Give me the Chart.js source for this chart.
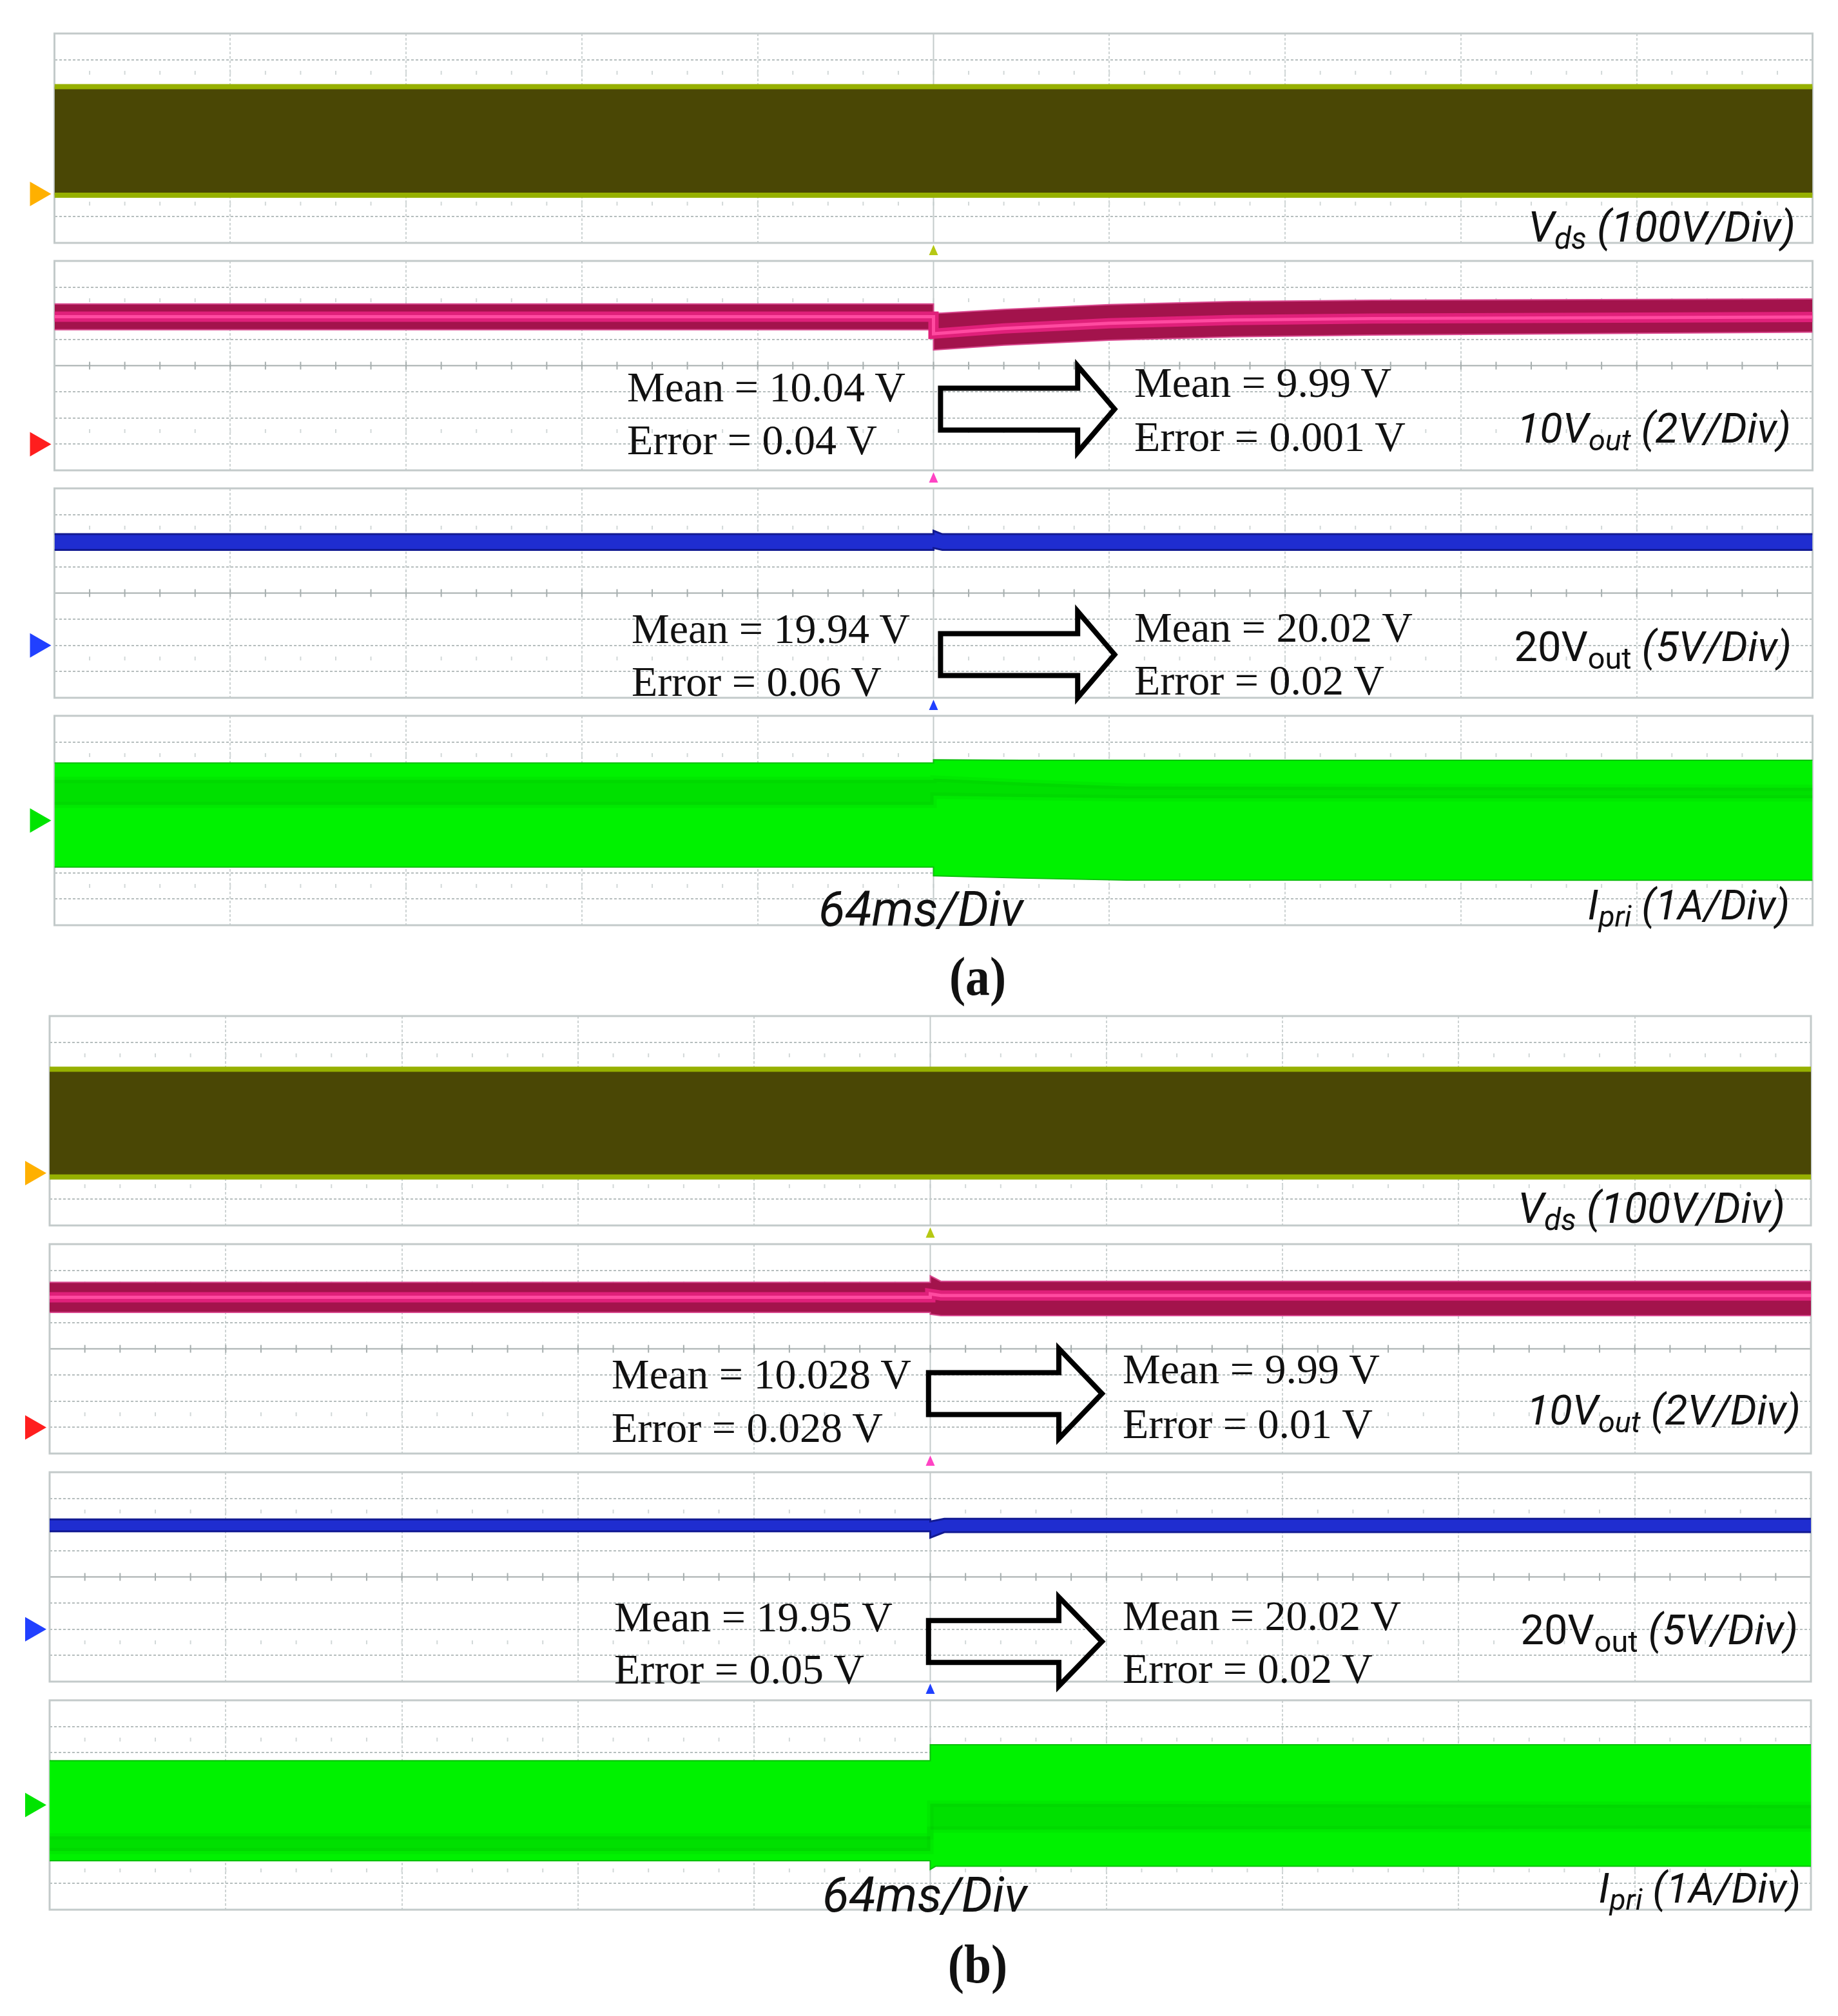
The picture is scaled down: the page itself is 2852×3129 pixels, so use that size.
<!DOCTYPE html>
<html>
<head>
<meta charset="utf-8">
<title>Load step waveforms</title>
<script src="https://cdn.jsdelivr.net/npm/chart.js@4.4.1/dist/chart.umd.min.js"></script>
<style>
  html, body { margin: 0; padding: 0; background: #fff; }
  #page { position: relative; width: 2852px; height: 3129px; overflow: hidden; background: #fff; }
  canvas { position: absolute; left: 0; }
  .txt { position: absolute; white-space: nowrap; line-height: 1; color: #111; z-index: 5; }
  .serif { font-family: "Liberation Serif", "Times New Roman", serif; }
  .lab { font-family: Roboto, "Open Sans", sans-serif; font-style: italic; }
  .lab .up { font-style: normal; }
  .sub { font-size: 0.72em; position: relative; top: 0.24em; }
  .fig { font-family: "Liberation Serif", serif; font-weight: bold; }
</style>
</head>
<body>
<div id="page"></div>
<script>
// all traces in scope divisions: x 0..10 (64 ms/div), y 0..8
const vdsT   = [0, 10];
const vdsAHi = [5.97, 5.97];
const vdsALo = [1.82, 1.82];
const vdsBHi = [5.97, 5.97];
const vdsBLo = [1.85, 1.85];

const v10AT   = [0, 5, 5, 5.4, 6.0, 6.7, 7.5, 10];
const v10AHi  = [6.36, 6.36, 5.99, 6.15, 6.33, 6.45, 6.50, 6.55];
const v10ALo  = [5.37, 5.37, 4.60, 4.78, 4.97, 5.10, 5.17, 5.28];
const v10AMid = [5.87, 5.87, 5.22, 5.42, 5.62, 5.74, 5.80, 5.86];

const v10BT   = [0, 5, 5, 5.06, 10];
const v10BHi  = [6.54, 6.54, 6.79, 6.58, 6.58];
const v10BLo  = [5.39, 5.39, 5.32, 5.27, 5.27];
const v10BMid = [5.97, 5.97, 6.10, 6.04, 6.04];

const v20AT  = [0, 5, 5, 5.05, 10];
const v20AHi = [6.25, 6.25, 6.38, 6.25, 6.25];
const v20ALo = [5.65, 5.65, 5.72, 5.65, 5.65];

const v20BT  = [0, 5, 5, 5.08, 10];
const v20BHi = [6.20, 6.20, 6.12, 6.22, 6.22];
const v20BLo = [5.74, 5.74, 5.50, 5.71, 5.71];

const ipAT      = [0, 5, 5, 5.5, 6.1, 10];
const ipAHi     = [6.20, 6.20, 6.32, 6.30, 6.30, 6.30];
const ipALo     = [2.22, 2.22, 1.89, 1.80, 1.72, 1.72];
const ipACoreHi = [5.55, 5.55, 5.60, 5.45, 5.30, 5.25];
const ipACoreLo = [4.60, 4.60, 4.95, 4.90, 4.85, 4.85];

const ipBT      = [0, 5, 5, 5.03, 10];
const ipBHi     = [5.69, 5.69, 6.30, 6.30, 6.30];
const ipBLo     = [1.87, 1.87, 1.54, 1.66, 1.66];
const ipBCoreHi = [2.80, 2.80, 4.05, 4.05, 4.00];
const ipBCoreLo = [2.24, 2.24, 3.06, 3.06, 3.10];

// channel ground levels (div) for figs a and b
const gndA = [1.87, 1.0, 2.0, 4.0];
const gndB = [2.0, 1.0, 2.0, 4.0];

// measurement texts
const notes = [
  // (a)
  {html: 'V<span class="sub">ds</span> (100V/Div)', cls: 'lab', fs: 66, x: 2786, base: 375, align: 'right'},
  {html: 'Mean = 10.04 V',  cls: 'serif', fs: 66, x: 973,  base: 623},
  {html: 'Error = 0.04 V',  cls: 'serif', fs: 66, x: 973,  base: 705},
  {html: 'Mean = 9.99 V',   cls: 'serif', fs: 66, x: 1760, base: 616},
  {html: 'Error = 0.001 V', cls: 'serif', fs: 66, x: 1760, base: 700},
  {html: '10V<span class="sub">out</span> (2V/Div)', cls: 'lab', fs: 65, x: 2779, base: 688, align: 'right'},
  {html: 'Mean = 19.94 V',  cls: 'serif', fs: 66, x: 980,  base: 998},
  {html: 'Error = 0.06 V',  cls: 'serif', fs: 66, x: 980,  base: 1080},
  {html: 'Mean = 20.02 V',  cls: 'serif', fs: 66, x: 1760, base: 996},
  {html: 'Error = 0.02 V',  cls: 'serif', fs: 66, x: 1760, base: 1078},
  {html: '<span class="up">20V<span class="sub">out</span></span> (5V/Div)', cls: 'lab', fs: 65, x: 2780, base: 1027, align: 'right'},
  {html: '64ms/Div', cls: 'lab', fs: 76, x: 1270, base: 1437},
  {html: 'I<span class="sub">pri</span> (1A/Div)', cls: 'lab', fs: 64, x: 2777, base: 1428, align: 'right'},
  {html: '(a)', cls: 'fig', fs: 84, x: 1517, base: 1545, align: 'center'},
  // (b)
  {html: 'V<span class="sub">ds</span> (100V/Div)', cls: 'lab', fs: 66, x: 2770, base: 1898, align: 'right'},
  {html: 'Mean = 10.028 V', cls: 'serif', fs: 66, x: 949,  base: 2155},
  {html: 'Error = 0.028 V', cls: 'serif', fs: 66, x: 949,  base: 2238},
  {html: 'Mean = 9.99 V',   cls: 'serif', fs: 66, x: 1742, base: 2147},
  {html: 'Error = 0.01 V',  cls: 'serif', fs: 66, x: 1742, base: 2232},
  {html: '10V<span class="sub">out</span> (2V/Div)', cls: 'lab', fs: 65, x: 2794, base: 2212, align: 'right'},
  {html: 'Mean = 19.95 V',  cls: 'serif', fs: 66, x: 953,  base: 2532},
  {html: 'Error = 0.05 V',  cls: 'serif', fs: 66, x: 953,  base: 2613},
  {html: 'Mean = 20.02 V',  cls: 'serif', fs: 66, x: 1742, base: 2530},
  {html: 'Error = 0.02 V',  cls: 'serif', fs: 66, x: 1742, base: 2612},
  {html: '<span class="up">20V<span class="sub">out</span></span> (5V/Div)', cls: 'lab', fs: 65, x: 2790, base: 2553, align: 'right'},
  {html: '64ms/Div', cls: 'lab', fs: 76, x: 1276, base: 2967},
  {html: 'I<span class="sub">pri</span> (1A/Div)', cls: 'lab', fs: 64, x: 2794, base: 2954, align: 'right'},
  {html: '(b)', cls: 'fig', fs: 84, x: 1517, base: 3078, align: 'center'}
];

const W = 2852, PANEL_H = 325, PAD = 40;
const figA = {left: 84.5, right: 2812.5, tops: [52, 405, 758, 1111]};
const figB = {left: 77, right: 2810, tops: [1577, 1931, 2285, 2639]};

const chStyle = {
  vds:  {fill: '#4a4705', edge: '#96b000', edgeW: 8, gnd: '#ffb000', trig: '#b6c814'},
  v10:  {fill: '#a3134c', edge: '#d8488e', edgeW: 2, gnd: '#ff1e1e', trig: '#ff44c4'},
  v20:  {fill: '#1f2dd0', edge: '#121a92', edgeW: 3, gnd: '#2140ff', trig: '#2040ff'},
  ipri: {fill: '#00f200', edge: '#0cbf0c', edgeW: 2, gnd: '#00e400', trig: null}
};

const page = document.getElementById('page');

function pts(t, v) { return t.map((x, i) => ({x: x, y: v[i]})); }

// lower `order` is painted later (on top)
function band(t, hi, lo, fill, edge, w, order) {
  return [
    {data: pts(t, hi), borderColor: edge, borderWidth: w, backgroundColor: fill, fill: '+1', order: order + 1},
    {data: pts(t, lo), borderColor: edge, borderWidth: w, fill: false, order: order}
  ];
}

const scope = {
  id: 'scope',
  beforeDatasetsDraw(chart, args, o) {
    const {ctx, chartArea: a, scales: {x, y}} = chart;
    const xc = x.getPixelForValue(5), yc = y.getPixelForValue(4);
    const seg = (x1, y1, x2, y2) => { ctx.beginPath(); ctx.moveTo(x1, y1); ctx.lineTo(x2, y2); ctx.stroke(); };
    ctx.save();
    ctx.strokeStyle = '#d2d8d8'; ctx.lineWidth = 2;
    [1.5, 6.5].forEach(r => {
      const py = y.getPixelForValue(r);
      for (let k = 1; k < 50; k++) {
        const px = x.getPixelForValue(k / 5);
        seg(px, py - 3, px, py + 3);
      }
    });
    ctx.strokeStyle = '#c4cbcb';
    seg(xc, a.top, xc, a.bottom);
    ctx.strokeStyle = '#a6aeae';
    seg(a.left, yc, a.right, yc);
    for (let k = 1; k < 50; k++) {
      const px = x.getPixelForValue(k / 5);
      seg(px, yc - 6, px, yc + 6);
    }
    ctx.strokeStyle = '#c3caca'; ctx.lineWidth = 3;
    ctx.strokeRect(a.left, a.top, a.right - a.left, a.bottom - a.top);
    ctx.restore();
  },
  afterDraw(chart, args, o) {
    const {ctx, chartArea: a, scales: {x, y}} = chart;
    ctx.save();
    if (o.arrow) {
      const r = o.arrow;
      const x0 = x.getPixelForValue(r.x0), xh = x.getPixelForValue(r.xh), x1 = x.getPixelForValue(r.x1);
      ctx.strokeStyle = '#000'; ctx.lineWidth = 8; ctx.lineJoin = 'miter';
      ctx.beginPath();
      ctx.moveTo(x0, y.getPixelForValue(r.y + r.bh));
      ctx.lineTo(xh, y.getPixelForValue(r.y + r.bh));
      ctx.lineTo(xh, y.getPixelForValue(r.y + r.hh));
      ctx.lineTo(x1, y.getPixelForValue(r.y));
      ctx.lineTo(xh, y.getPixelForValue(r.y - r.hh));
      ctx.lineTo(xh, y.getPixelForValue(r.y - r.bh));
      ctx.lineTo(x0, y.getPixelForValue(r.y - r.bh));
      ctx.closePath();
      ctx.stroke();
    }
    const gy = y.getPixelForValue(o.gnd);
    ctx.fillStyle = o.gndColor;
    ctx.beginPath();
    ctx.moveTo(a.left - 5, gy);
    ctx.lineTo(a.left - 38, gy - 19);
    ctx.lineTo(a.left - 38, gy + 19);
    ctx.closePath(); ctx.fill();
    if (o.trig) {
      const xc = x.getPixelForValue(5);
      ctx.fillStyle = o.trig;
      ctx.beginPath();
      ctx.moveTo(xc, a.bottom + 3);
      ctx.lineTo(xc - 7, a.bottom + 19);
      ctx.lineTo(xc + 7, a.bottom + 19);
      ctx.closePath(); ctx.fill();
    }
    ctx.restore();
  }
};

function makePanel(fig, idx, ch, datasets, gnd, arrow) {
  const st = chStyle[ch];
  const cv = document.createElement('canvas');
  cv.width = W; cv.height = PANEL_H + 2 * PAD;
  cv.style.width = W + 'px'; cv.style.height = (PANEL_H + 2 * PAD) + 'px';
  cv.style.top = (fig.tops[idx] - PAD) + 'px';
  page.appendChild(cv);
  new Chart(cv, {
    type: 'line',
    data: {datasets: datasets},
    options: {
      responsive: false, animation: false, devicePixelRatio: 1,
      layout: {padding: {left: fig.left, right: W - fig.right, top: PAD, bottom: PAD}},
      elements: {point: {radius: 0}, line: {tension: 0}},
      plugins: {
        legend: {display: false}, tooltip: {enabled: false},
        scope: {gnd: gnd, gndColor: st.gnd, trig: st.trig, arrow: arrow}
      },
      scales: {
        x: {
          type: 'linear', min: 0, max: 10,
          ticks: {display: false, stepSize: 1},
          grid: {drawTicks: false, lineWidth: 2,
                 color: c => (c.tick.value % 5 === 0) ? 'rgba(0,0,0,0)' : '#cdd3d3'},
          border: {display: false, dash: [4, 3]}
        },
        y: {
          type: 'linear', min: 0, max: 8,
          ticks: {display: false, stepSize: 1},
          grid: {drawTicks: false, lineWidth: 2,
                 color: c => (c.tick.value % 4 === 0) ? 'rgba(0,0,0,0)' : '#b6bebe'},
          border: {display: false, dash: [4, 3]}
        }
      }
    },
    plugins: [scope]
  });
}

function vdsSets(hi, lo) {
  const s = chStyle.vds;
  return band(vdsT, hi, lo, s.fill, s.edge, s.edgeW, 4);
}
function v10Sets(t, hi, lo, mid) {
  const s = chStyle.v10;
  return band(t, hi, lo, s.fill, s.edge, s.edgeW, 4).concat([
    {data: pts(t, mid), borderColor: '#e0207a', borderWidth: 16, fill: false, order: 1},
    {data: pts(t, mid), borderColor: '#ff4aa0', borderWidth: 5, fill: false, order: 0}
  ]);
}
function v20Sets(t, hi, lo) {
  const s = chStyle.v20;
  return band(t, hi, lo, s.fill, s.edge, s.edgeW, 4);
}
function ipSets(t, hi, lo, cHi, cLo) {
  const s = chStyle.ipri;
  return band(t, hi, lo, s.fill, s.edge, s.edgeW, 4).concat(
    band(t, cHi, cLo, 'rgba(0,160,0,0.22)', 'rgba(0,160,0,0.10)', 10, 1));
}

// figure (a)
makePanel(figA, 0, 'vds', vdsSets(vdsAHi, vdsALo), gndA[0]);
makePanel(figA, 1, 'v10', v10Sets(v10AT, v10AHi, v10ALo, v10AMid), gndA[1],
  {x0: 5.04, xh: 5.82, x1: 6.03, y: 2.34, bh: 0.8, hh: 1.65});
makePanel(figA, 2, 'v20', v20Sets(v20AT, v20AHi, v20ALo), gndA[2],
  {x0: 5.04, xh: 5.82, x1: 6.03, y: 1.65, bh: 0.8, hh: 1.65});
makePanel(figA, 3, 'ipri', ipSets(ipAT, ipAHi, ipALo, ipACoreHi, ipACoreLo), gndA[3]);

// figure (b)
makePanel(figB, 0, 'vds', vdsSets(vdsBHi, vdsBLo), gndB[0]);
makePanel(figB, 1, 'v10', v10Sets(v10BT, v10BHi, v10BLo, v10BMid), gndB[1],
  {x0: 4.99, xh: 5.73, x1: 5.975, y: 2.29, bh: 0.8, hh: 1.72});
makePanel(figB, 2, 'v20', v20Sets(v20BT, v20BHi, v20BLo), gndB[2],
  {x0: 4.99, xh: 5.73, x1: 5.975, y: 1.53, bh: 0.8, hh: 1.70});
makePanel(figB, 3, 'ipri', ipSets(ipBT, ipBHi, ipBLo, ipBCoreHi, ipBCoreLo), gndB[3]);

notes.forEach(n => {
  const el = document.createElement('div');
  el.className = 'txt ' + n.cls;
  el.innerHTML = n.html;
  el.style.fontSize = n.fs + 'px';
  el.style.top = (n.base - 0.84 * n.fs) + 'px';
  if (n.align === 'right') {
    el.style.right = (W - n.x) + 'px';
  } else if (n.align === 'center') {
    el.style.left = n.x + 'px';
    el.style.transform = 'translateX(-50%) scaleX(0.9)';
  } else {
    el.style.left = n.x + 'px';
  }
  page.appendChild(el);
});
</script>
</body>
</html>
